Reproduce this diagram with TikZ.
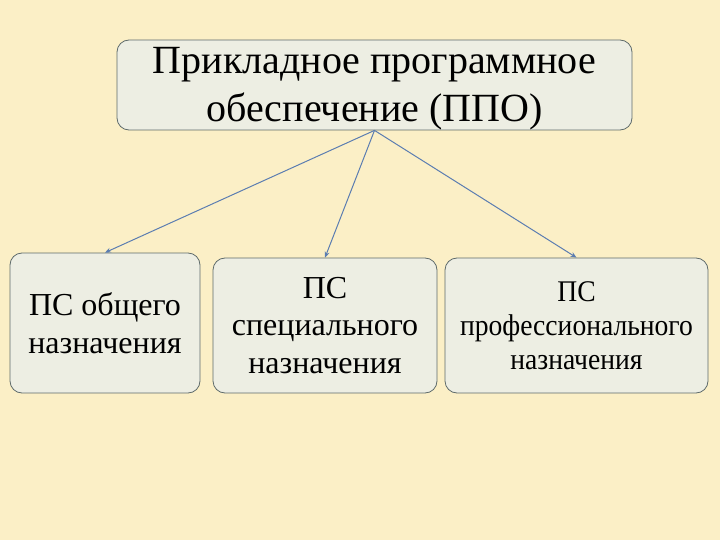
\documentclass[tikz,border=0pt]{standalone}
\usepackage{fontspec}
\setmainfont{Liberation Serif}
\newfontfamily\narrowserif[FakeStretch=0.92]{Liberation Serif}
\usetikzlibrary{arrows.meta}
\definecolor{bgcream}{HTML}{FBEFC6}
\definecolor{boxfill}{HTML}{EDEEE3}
\definecolor{boxline}{HTML}{5E6B6B}
\definecolor{arrowblue}{HTML}{5B7DB1}
\begin{document}
\begin{tikzpicture}[x=1pt, y=-1pt,
    block/.style={rectangle, rounded corners=12pt, draw=boxline, line width=0.8pt, fill=boxfill, text centered, align=center, inner sep=0pt},
    link/.style={-{Stealth[length=6pt, width=5pt]}, draw=arrowblue, line width=1pt}]
    
    \fill[bgcream] (0,0) rectangle (720,540);
    \useasboundingbox (0,0) rectangle (720,540);
    
    \node[block, minimum width=515pt, minimum height=90pt,
        label={[name=ppotext, align=center, yshift=-4pt, font=\fontsize{40}{48}\selectfont]center:Прикладное программное\\обеспечение (ППО)}] (ppo) at (374.5,85) {};
    \node[block, minimum width=190pt, minimum height=140pt, font=\fontsize{32}{38}\selectfont] (general) at (105,323) {ПС общего\\назначения};
    \node[block, minimum width=224pt, minimum height=135pt, font=\fontsize{32}{37.5}\selectfont] (special) at (325,325.5) {ПС\\специального\\назначения};
    \node[block, minimum width=263pt, minimum height=135pt, font=\narrowserif\fontsize{30}{34}\selectfont] (profi) at (576.5,325.5) {ПС\\профессионального\\назначения};
    
    \draw[link] (ppo.south) -- (general.north);
    \draw[link] (ppo.south) -- (special.north);
    \draw[link] (ppo.south) -- (profi.north);
\end{tikzpicture}
\end{document}
